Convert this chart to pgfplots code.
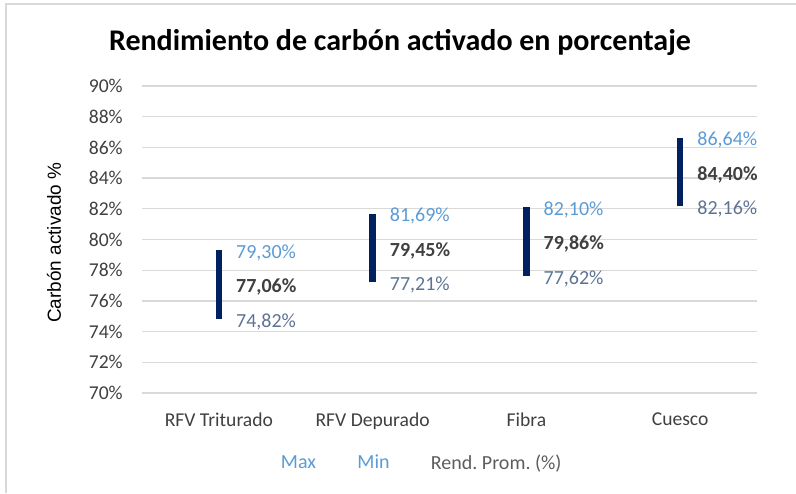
\documentclass[border=0pt]{standalone}
\usepackage{pgfplots}
\pgfplotsset{compat=1.18}
\usepackage{fontspec}
\setmainfont{Carlito}
\newfontfamily\arialfont{Liberation Sans}
\definecolor{navy}{HTML}{002060}
\definecolor{maxblue}{HTML}{5B9BD5}
\definecolor{minblue}{HTML}{5E7394}
\definecolor{meangray}{HTML}{404040}
\definecolor{gridgray}{HTML}{D9D9D9}
\definecolor{textgray}{HTML}{404040}
\frenchspacing
\begin{document}
\begin{tikzpicture}
\useasboundingbox (0,0) rectangle (597pt,369.75pt);
\draw[gridgray, line width=1.2pt] (4.5pt,0) -- (4.5pt,366.75pt) -- (597pt,366.75pt);
\node[font=\fontsize{22.5}{27}\selectfont\bfseries, text=black] at (300pt,338.25pt) {Rendimiento de carbón activado en porcentaje};
\begin{axis}[
  at={(106.5pt,75pt)}, anchor=south west, scale only axis,
  width=461.25pt, height=230.25pt,
  xmin=-0.5, xmax=3.5, ymin=70, ymax=90,
  xtick={0,1,2,3},
  xticklabels={RFV Triturado, RFV Depurado, Fibra, Cuesco},
  ytick={70,72,...,90},
  yticklabel={\pgfmathprintnumber{\tick}\%},
  /pgf/number format/assume math mode=true,
  major tick length=0pt,
  axis line style={draw=none},
  ymajorgrids,
  grid style={gridgray, line width=0.9pt},
  tick label style={text=textgray},
  yticklabel style={font=\fontsize{14.7}{17}\selectfont, inner sep=0pt, anchor=east, xshift=-14.25pt},
  xticklabel style={font=\fontsize{14.7}{17}\selectfont, inner sep=0pt, anchor=north, yshift=-15pt},
  ylabel={Carbón activado \%},
  every axis y label/.style={at={(rel axis cs:-0.143,0.4896)}, rotate=90, anchor=center,
     font=\arialfont\fontsize{14.2}{17}\selectfont, text=black},
  legend style={at={(rel axis cs:0.454,-0.228)}, anchor=center, draw=none, fill=none,
     legend columns=3, font=\fontsize{15}{18}\selectfont,
     /tikz/every even column/.append style={column sep=27pt}},
  legend image code/.code={},
  nodes near coords style={anchor=west, inner sep=0pt, xshift=12.75pt, yshift=-2pt, font=\fontsize{15}{18}\selectfont},
  clip=false,
]
% hi-lo bars
\addplot[navy, line width=5pt, forget plot] coordinates {(0,74.82) (0,79.30)};
\addplot[navy, line width=5pt, forget plot] coordinates {(1,77.21) (1,81.69)};
\addplot[navy, line width=5pt, forget plot] coordinates {(2,77.62) (2,82.10)};
\addplot[navy, line width=5pt, forget plot] coordinates {(3,82.16) (3,86.64)};
% Max
\addplot[draw=none, mark=none, point meta=y,
  nodes near coords={\pgfmathprintnumber[fixed,fixed zerofill,precision=2,use comma]{\pgfplotspointmeta}\%},
  every node near coord/.append style={text=maxblue}]
  coordinates {(0,79.30) (1,81.69) (2,82.10) (3,86.64)};
\addlegendentry[text=maxblue]{Max}
% Min
\addplot[draw=none, mark=none, point meta=y,
  nodes near coords={\pgfmathprintnumber[fixed,fixed zerofill,precision=2,use comma]{\pgfplotspointmeta}\%},
  every node near coord/.append style={text=minblue}]
  coordinates {(0,74.82) (1,77.21) (2,77.62) (3,82.16)};
\addlegendentry[text=maxblue]{Min}
% Mean
\addplot[draw=none, mark=none, point meta=y,
  nodes near coords={\textbf{\pgfmathprintnumber[fixed,fixed zerofill,precision=2,use comma]{\pgfplotspointmeta}\%}},
  every node near coord/.append style={text=meangray}]
  coordinates {(0,77.06) (1,79.45) (2,79.86) (3,84.40)};
\addlegendentry[text=textgray!85]{Rend. Prom. (\%)}
\end{axis}
\end{tikzpicture}
\end{document}
